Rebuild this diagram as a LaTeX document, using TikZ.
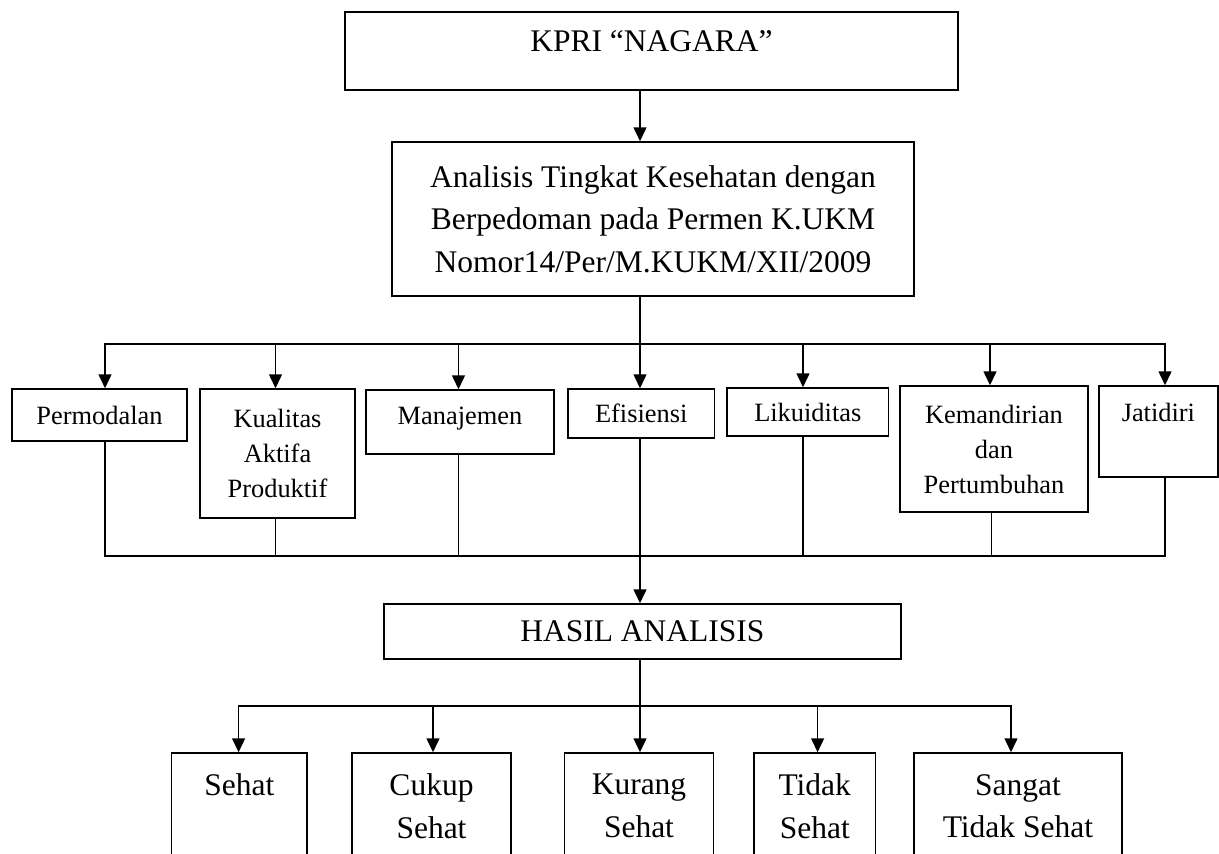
\documentclass[tikz,border=0pt]{standalone}
\usepackage{fontspec}
\setmainfont{Liberation Serif}
\usetikzlibrary{arrows.meta}
\begin{document}
\begin{tikzpicture}[x=1pt,y=-1pt,
  box/.style={draw, line width=1.5pt, inner sep=0pt, align=center, font=\fontsize{31.5}{42.5}\selectfont},
  mid/.style={box, font=\fontsize{26.4}{35}\selectfont},
  conn/.style={line width=1.5pt},
  arr/.style={conn, -{Triangle[width=13pt,length=14pt]}}]
\useasboundingbox (0,0) rectangle (1219,854);
% top boxes
\node[box, minimum width=613pt, minimum height=78pt, text height=21.5pt, text depth=20pt] (top) at (651.5,51) {KPRI “NAGARA”};
\node[box, minimum width=522pt, minimum height=154pt] (ana) at (653,219) {Analisis Tingkat Kesehatan dengan\\Berpedoman pada Permen K.UKM\\Nomor14/Per/M.KUKM/XII/2009};
% middle row
\node[mid, minimum width=175pt, minimum height=52pt] (perm) at (99.5,415) {Permodalan};
\node[mid, minimum width=155pt, minimum height=129pt] (kual) at (277.5,453.5) {Kualitas\\Aktifa\\Produktif};
\node[mid, minimum width=188pt, minimum height=64pt, text height=18pt, text depth=14pt] (mana) at (460,422) {Manajemen};
\node[mid, minimum width=146.5pt, minimum height=49pt] (efis) at (641.2,413.5) {Efisiensi};
\node[mid, minimum width=161.6pt, minimum height=48pt] (liku) at (807.8,412) {Likuiditas};
\node[mid, minimum width=188pt, minimum height=126pt] (kema) at (994,449) {Kemandirian\\dan\\Pertumbuhan};
\node[mid, minimum width=119.3pt, minimum height=91pt, text height=18pt, text depth=37.6pt] (jati) at (1158.4,431.5) {Jatidiri};
% result
\node[box, minimum width=516.7pt, minimum height=55pt] (hasil) at (642.4,631.5) {HASIL ANALISIS};
% bottom row
\node[box, minimum width=135.4pt, minimum height=106pt] (sehat) at (239.3,806) {Sehat\\ \phantom{Sehat}};
\node[box, minimum width=159pt, minimum height=106pt] (cukup) at (431.5,806) {Cukup\\Sehat};
\node[box, minimum width=149pt, minimum height=106pt] (kurang) at (639,806) {Kurang\\Sehat};
\node[box, minimum width=121.5pt, minimum height=106pt] (tidak) at (814.75,806) {Tidak\\Sehat};
\node[box, minimum width=207.7pt, minimum height=106pt] (sangat) at (1017.9,806) {Sangat\\Tidak Sehat};
% coordinates of upper bus
\coordinate (u1) at (105,344);
\coordinate (u2) at (275.5,344);
\coordinate (u3) at (458.5,344);
\coordinate (u4) at (640,344);
\coordinate (u5) at (803,344);
\coordinate (u6) at (990,344);
\coordinate (u7) at (1165,344);
% lower bus
\coordinate (l1) at (105,556);
\coordinate (l2) at (275.5,556);
\coordinate (l3) at (458.5,556);
\coordinate (l5) at (803,556);
\coordinate (l6) at (991.6,556);
\coordinate (l7) at (1165,556);
% result bus
\coordinate (v1) at (238.6,706);
\coordinate (v2) at (433,706);
\coordinate (v3) at (640,706);
\coordinate (v4) at (817.6,706);
\coordinate (v5) at (1011,706);
% trunk
\draw[arr] (u4 |- top.south) -- (u4 |- ana.north);
\draw[conn] (u4 |- ana.south) -- (u4);
\draw[conn, line cap=rect] (u1) -- (u7);
\draw[arr] (u1) -- (u1 |- perm.north);
\draw[arr] (u2) -- (u2 |- kual.north);
\draw[arr] (u3) -- (u3 |- mana.north);
\draw[arr] (u4) -- (u4 |- efis.north);
\draw[arr] (u5) -- (u5 |- liku.north);
\draw[arr] (u6) -- (u6 |- kema.north);
\draw[arr] (u7) -- (u7 |- jati.north);
% lower connections
\draw[conn] (l1 |- perm.south) -- (l1) -- (l7) -- (l7 |- jati.south);
\draw[conn] (l2 |- kual.south) -- (l2);
\draw[conn] (l3 |- mana.south) -- (l3);
\draw[conn] (l5 |- liku.south) -- (l5);
\draw[conn] (l6 |- kema.south) -- (l6);
\draw[arr] (u4 |- efis.south) -- (u4 |- hasil.north);
% result fan-out
\draw[conn] (v3 |- hasil.south) -- (v3);
\draw[conn, line cap=rect] (v1) -- (v5);
\draw[arr] (v1) -- (v1 |- sehat.north);
\draw[arr] (v2) -- (v2 |- cukup.north);
\draw[arr] (v3) -- (v3 |- kurang.north);
\draw[arr] (v4) -- (v4 |- tidak.north);
\draw[arr] (v5) -- (v5 |- sangat.north);
\end{tikzpicture}
\end{document}
